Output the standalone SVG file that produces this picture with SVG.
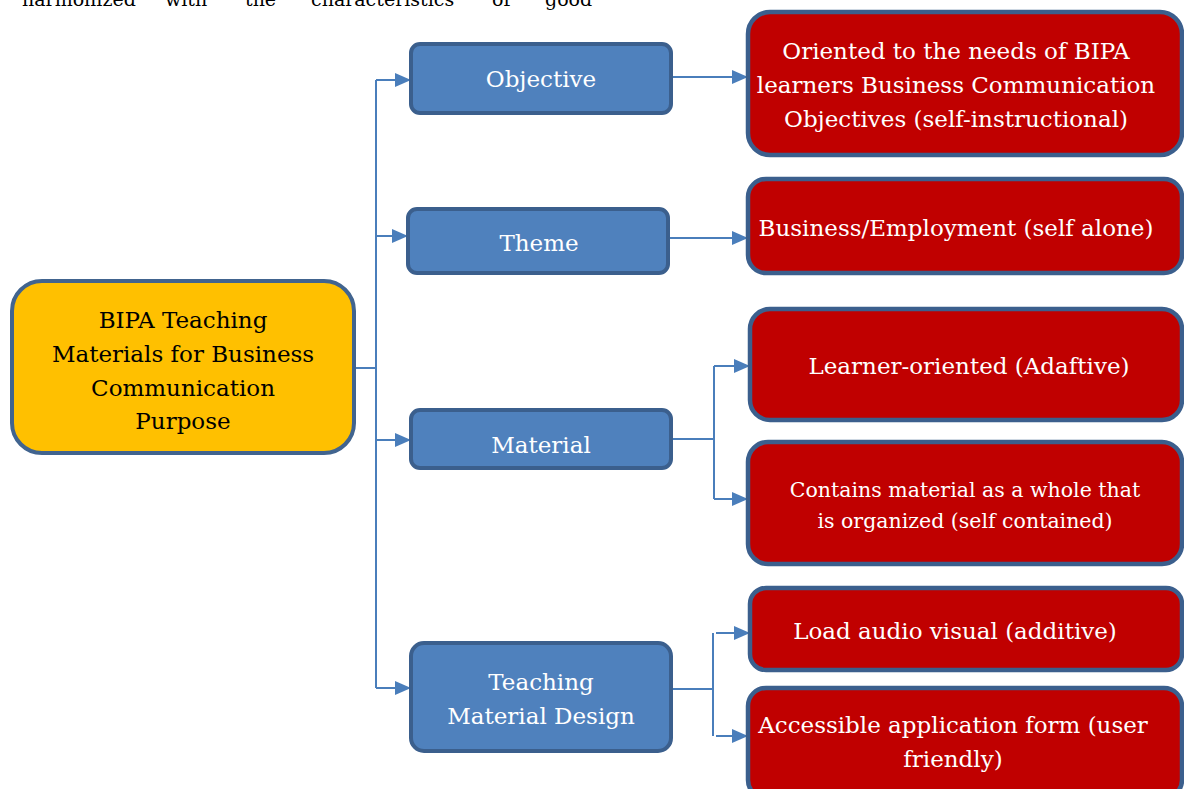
<svg xmlns="http://www.w3.org/2000/svg" width="1184" height="789" viewBox="0 0 1184 789">
<style>
text{font-family:"DejaVu Serif","Liberation Serif",serif;font-size:23px;text-anchor:middle}
.root rect{fill:#FFC000;stroke:#41648F;stroke-width:4}
.root text{fill:#000}
.blue rect{fill:#4F81BD;stroke:#3B5F8D;stroke-width:4}
.red rect{fill:#C00000;stroke:#3B5F8D;stroke-width:4.5}
.blue text,.red text{fill:#fff}
.conn path{fill:none;stroke:#4A7EBB;stroke-width:2}
.arr{marker-end:url(#ah)}
</style>
<defs>
<marker id="ah" markerUnits="userSpaceOnUse" markerWidth="17" markerHeight="16" refX="16" refY="7" orient="auto">
<path d="M0,0 L16,7 L0,14 z" fill="#4A7EBB"/>
</marker>
</defs>
<text style="text-anchor:start;fill:#000;font-size:19px" y="6"><tspan x="22">harmonized</tspan><tspan x="165">with</tspan><tspan x="245">the</tspan><tspan x="311">characteristics</tspan><tspan x="492">of</tspan><tspan x="545">good</tspan></text>
<g class="conn">
<path d="M354,368 H376"/>
<path d="M376,80 V688"/>
<path class="arr" d="M376,80 H411"/>
<path class="arr" d="M376,236 H408"/>
<path class="arr" d="M376,440 H411"/>
<path class="arr" d="M376,688 H411"/>
<path class="arr" d="M671,77 H748"/>
<path class="arr" d="M668,238 H748"/>
<path d="M671,439 H714 M714,366 V499"/>
<path class="arr" d="M714,366 H750"/>
<path class="arr" d="M714,499 H748"/>
<path d="M671,689 H714 M713,633 V736"/>
<path class="arr" d="M716,633 H750"/>
<path class="arr" d="M716,736 H748"/>
</g>
<g id="root" class="root">
<rect x="12" y="281" width="342" height="172" rx="30"/>
<text x="183" y="328">BIPA Teaching</text>
<text x="183" y="362">Materials for Business</text>
<text x="183" y="396">Communication</text>
<text x="183" y="429">Purpose</text>
</g>
<g id="objective" class="blue">
<rect x="411" y="44" width="260" height="69" rx="9"/>
<text x="541" y="87">Objective</text>
</g>
<g id="theme" class="blue">
<rect x="408" y="209" width="260" height="64" rx="9"/>
<text x="539" y="251">Theme</text>
</g>
<g id="material" class="blue">
<rect x="411" y="410" width="260" height="58" rx="9"/>
<text x="541" y="453">Material</text>
</g>
<g id="design" class="blue">
<rect x="411" y="643" width="260" height="108" rx="13"/>
<text x="541" y="690">Teaching</text>
<text x="541" y="724">Material Design</text>
</g>
<g id="obj-detail" class="red">
<rect x="748" y="12" width="434" height="143" rx="22"/>
<text x="956" y="59">Oriented to the needs of BIPA</text>
<text x="956" y="93">learners Business Communication</text>
<text x="956" y="127">Objectives (self-instructional)</text>
</g>
<g id="theme-detail" class="red">
<rect x="748" y="179" width="434" height="94" rx="18"/>
<text x="956" y="236">Business/Employment (self alone)</text>
</g>
<g id="learner" class="red">
<rect x="750" y="309" width="432" height="111" rx="20"/>
<text x="969" y="374">Learner-oriented (Adaftive)</text>
</g>
<g id="contains" class="red">
<rect x="748" y="442" width="434" height="122" rx="20"/>
<text x="965" y="497" style="font-size:20.5px">Contains material as a whole that</text>
<text x="965" y="528" style="font-size:20.5px">is organized (self contained)</text>
</g>
<g id="audio" class="red">
<rect x="750" y="588" width="432" height="82" rx="16"/>
<text x="955" y="639">Load audio visual (additive)</text>
</g>
<g id="access" class="red">
<rect x="748" y="688" width="434" height="110" rx="18"/>
<text x="953" y="733">Accessible application form (user</text>
<text x="953" y="767">friendly)</text>
</g>
</svg>
